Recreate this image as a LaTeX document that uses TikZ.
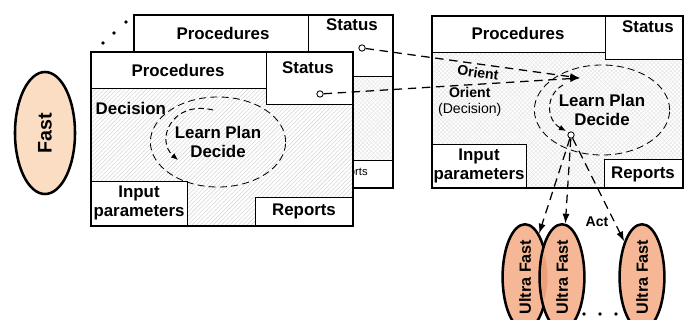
\documentclass[tikz,border=0pt]{standalone}
\usepackage{fontspec}
\setmainfont{Liberation Sans}
\usetikzlibrary{positioning,arrows.meta,shapes.geometric,patterns}

\definecolor{fastfill}{HTML}{FBDDC3}
\definecolor{ultra}{HTML}{F5B795}
\definecolor{ultradark}{HTML}{EC9F78}

\begin{document}
\begin{tikzpicture}[
    x=0.025cm, y=-0.025cm,
    panel/.style={
        draw,
        line width=1.4pt
    },
    cell/.style={
        draw,
        fill=white,
        line width=0.7pt
    },
    celltext/.style={
        font=\fontsize{12}{13.5}\selectfont\bfseries,
        align=center,
        inner sep=1pt
    },
    ring/.style={
        draw,
        ellipse,
        dash pattern=on 5pt off 3pt,
        line width=0.6pt,
        minimum width=2.85cm,
        minimum height=2.25cm,
        align=center,
        font=\fontsize{12}{14}\selectfont\bfseries
    },
    tap/.style={
        circle,
        draw,
        fill=white,
        line width=0.6pt,
        inner sep=0pt,
        minimum size=4.5pt
    },
    agent/.style={
        ellipse,
        draw,
        line width=1.8pt,
        fill=ultra,
        rotate=90,
        minimum width=2.2cm,
        minimum height=1.12cm,
        inner sep=0pt,
        font=\fontsize{11.5}{13}\selectfont\bfseries
    },
    arrow/.style={
        -{Latex[length=7pt,width=5pt]},
        dash pattern=on 6pt off 4pt,
        line width=0.9pt
    },
    spin/.style={
        -{Latex[length=5pt,width=4pt]},
        dash pattern=on 4pt off 2.5pt,
        line width=0.7pt
    }
]
\useasboundingbox (0,0) rectangle (684,320);

% slow layer behind
\path[preaction={fill=white}, pattern=crosshatch, pattern color=gray!18] (134,15) rectangle (393,188);
\draw[cell] (134,15) rectangle (308,52);
\draw[cell] (308,15) rectangle (393,76);
\draw[cell] (303,160) rectangle (393,188);
\draw[panel] (134,15) rectangle (393,188);
\node[celltext] (procB) at (223,33) {Procedures};
\node[celltext] (statB) at (352,25) {Status};
\node[font=\fontsize{8}{9}\selectfont] (repB) at (348,173) {Reports};
\node[tap] (tapB) at (362,48) {};

% slow layer in front
\path[preaction={fill=white}, pattern=north east lines, pattern color=gray!30] (91,52) rectangle (353,226);
\draw[cell] (91,52) rectangle (266,88);
\draw[cell] (266,52) rectangle (353,104);
\draw[cell] (91,181) rectangle (187,226);
\draw[cell] (255,197) rectangle (353,226);
\draw[panel] (91,52) rectangle (353,226);
\node[celltext] (procF) at (178,70) {Procedures};
\node[celltext] (statF) at (308,68) {Status};
\node[celltext, anchor=west] (decF) at (94,108) {Decision};
\node[celltext] (inF) at (139,203) {Input\\parameters};
\node[celltext] (repF) at (304,211) {Reports};
\node[ring] (ringF) at (218,142) {Learn Plan\\Decide};
\node[tap] (tapF) at (320,94) {};
\draw[spin] (213,110) .. controls (172,100) and (155,140) .. (178,160);

% stacked dots
\foreach \px/\py in {103/43, 114/33, 126/22}
    \fill (\px,\py) circle (1.8);

% fast agent
\node[ellipse, draw, line width=1.8pt, fill=fastfill, rotate=90,
      minimum width=3.05cm, minimum height=1.5cm,
      font=\fontsize{14}{16}\selectfont\bfseries] (fast) at (45,133) {Fast};

% right layer
\path[preaction={fill=white}, pattern=crosshatch, pattern color=gray!18] (432,16) rectangle (683,188);
\draw[cell] (432,16) rectangle (605,52);
\draw[cell] (605,16) rectangle (683,59);
\draw[cell] (432,144) rectangle (526,188);
\draw[cell] (604,159) rectangle (683,188);
\draw[panel] (432,16) rectangle (683,188);
\node[celltext] (procR) at (518,33) {Procedures};
\node[celltext] (statR) at (648,27) {Status};
\node[celltext] (inR) at (479,166) {Input\\parameters};
\node[celltext] (repR) at (643,174) {Reports};
\node[ring] (ringR) at (602,110) {Learn Plan\\Decide};
\node[tap] (hub) at (571,135) {};
\coordinate (orient) at (580,78);
\draw[spin] (563,85) .. controls (545,95) and (546,120) .. (566,131);

% orient connectors
\draw[arrow] (tapB) -- node[sloped, below, pos=0.53, inner sep=2pt,
    font=\fontsize{10}{12}\selectfont\bfseries] (or1) {Orient} (orient);
\draw[arrow] (tapF) -- node[below, pos=0.57, align=center, inner sep=1pt,
    font=\fontsize{10}{12}\selectfont] (or2) {\textbf{Orient}\\(Decision)} (orient);

% ultra fast agents
\node[agent] (uf1) at (525,277) {Ultra Fast};
\node[agent] (uf2) at (562,277) {Ultra Fast};
\node[agent] (uf3) at (642,277) {Ultra Fast};
\begin{scope}
    \clip (525,277) ellipse [x radius=22.4, y radius=44];
    \fill[ultradark] (562,277) ellipse [x radius=20.8, y radius=42.5];
\end{scope}

\draw[arrow] (hub) -- (uf1);
\draw[arrow] (hub) -- (uf2);
\draw[arrow] (hub) -- (uf3);
\node[font=\fontsize{10}{12}\selectfont\bfseries] (act) at (597,222) {Act};

\foreach \px in {584, 600, 616}
    \fill (\px,314) circle (1.8);

\end{tikzpicture}
\end{document}
